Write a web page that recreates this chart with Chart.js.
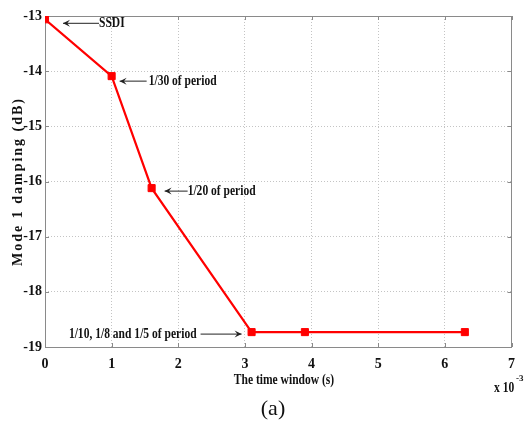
<!DOCTYPE html>
<html>
<head>
<meta charset="utf-8">
<script src="https://cdn.jsdelivr.net/npm/chart.js@4/dist/chart.umd.min.js"></script>
<style>
html,body{margin:0;padding:0;background:#fff;}
#wrap{width:524px;height:427px;position:relative;}
</style>
</head>
<body>
<div id="wrap"><canvas id="c" width="524" height="427"></canvas></div>
<script>
// ---- data ----
const timeWindow = [0, 1.0, 1.6, 3.1, 3.9, 6.3];           // x 10^-3 s
const damping = [-13.06, -14.09, -16.12, -18.73, -18.73, -18.73]; // dB
const xTicks = [0, 1, 2, 3, 4, 5, 6, 7];
const yTicks = [-13, -14, -15, -16, -17, -18, -19];
const annoText = ['SSDI', '1/30 of period', '1/20 of period', '1/10, 1/8 and 1/5 of period'];
const annoIndex = [0, 1, 2, 3];
const xTitle = 'The time window (s)';
const yTitle = 'Mode 1 damping (dB)';
const caption = '(a)';

const SERIF = '"Liberation Serif", "Times New Roman", serif';

function condensedText(ctx, txt, x, y, align, sx) {
  ctx.save();
  const w = ctx.measureText(txt).width * sx;
  let left = x;
  if (align === 'right') left = x - w;
  else if (align === 'center') left = x - w / 2;
  ctx.translate(left, y);
  ctx.scale(sx, 1);
  ctx.textAlign = 'left';
  ctx.fillText(txt, 0, 0);
  ctx.restore();
  return w;
}

function arrow(ctx, x1, y, xTip) {
  ctx.save();
  ctx.strokeStyle = '#222';
  ctx.fillStyle = '#222';
  ctx.lineWidth = 1;
  ctx.beginPath();
  ctx.moveTo(x1, y); ctx.lineTo(xTip, y);
  ctx.stroke();
  const d = xTip < x1 ? 7 : -7;
  ctx.beginPath();
  ctx.moveTo(xTip + d, y - 3.5); ctx.lineTo(xTip, y); ctx.lineTo(xTip + d, y + 3.5);
  ctx.lineTo(xTip + d * 0.6, y);
  ctx.closePath();
  ctx.fill();
  ctx.restore();
}

const framePlugin = {
  id: 'frame',
  beforeDatasetsDraw(chart) {
    const {ctx, chartArea: a, scales} = chart;
    ctx.save();
    ctx.strokeStyle = '#8a8a8a';
    ctx.lineWidth = 1;
    ctx.strokeRect(Math.round(a.left) + 0.5, Math.round(a.top) + 0.5, Math.round(a.right - a.left) - 1, Math.round(a.bottom - a.top));
    ctx.beginPath();
    xTicks.forEach(v => {
      const px = Math.round(scales.x.getPixelForValue(v)) + 0.5;
      ctx.moveTo(px, a.bottom); ctx.lineTo(px, a.bottom - 4);
      ctx.moveTo(px, a.top); ctx.lineTo(px, a.top + 4);
    });
    yTicks.forEach(v => {
      const py = Math.round(scales.y.getPixelForValue(v)) + 0.5;
      ctx.moveTo(a.left, py); ctx.lineTo(a.left + 4, py);
      ctx.moveTo(a.right, py); ctx.lineTo(a.right - 4, py);
    });
    ctx.stroke();
    ctx.restore();
  },
  afterDraw(chart) {
    const {ctx, chartArea: a, scales} = chart;
    const xs = scales.x, ys = scales.y;
    ctx.save();
    ctx.fillStyle = '#111';
    ctx.textBaseline = 'middle';
    ctx.font = 'bold 15px ' + SERIF;
    // annotations
    const pts = annoIndex.map(i => ({x: xs.getPixelForValue(timeWindow[i]), y: ys.getPixelForValue(damping[i])}));
    let p = pts[0];
    arrow(ctx, p.x + 54, p.y + 4, p.x + 18);
    condensedText(ctx, annoText[0], p.x + 54, p.y + 4, 'left', 0.77);
    p = pts[1];
    arrow(ctx, p.x + 35, p.y + 5, p.x + 8);
    condensedText(ctx, annoText[1], p.x + 37, p.y + 5, 'left', 0.77);
    p = pts[2];
    arrow(ctx, p.x + 36, p.y + 3, p.x + 13);
    condensedText(ctx, annoText[2], p.x + 36, p.y + 3, 'left', 0.77);
    p = pts[3];
    arrow(ctx, p.x - 51, p.y + 2, p.x - 10);
    condensedText(ctx, annoText[3], p.x - 55, p.y + 2, 'right', 0.77);

    // axis titles
    ctx.font = 'bold 15px ' + SERIF;
    condensedText(ctx, xTitle, 284, 380, 'center', 0.77);
    ctx.save();
    ctx.translate(18, (a.top + a.bottom) / 2);
    ctx.rotate(-Math.PI / 2);
    ctx.font = 'bold 14px ' + SERIF;
    ctx.textAlign = 'center';
    if ('letterSpacing' in ctx) ctx.letterSpacing = '2px';
    ctx.fillText(yTitle, 0, 0);
    ctx.restore();
    // exponent
    ctx.font = 'bold 15px ' + SERIF;
    condensedText(ctx, 'x 10', 494, 388, 'left', 0.77);
    ctx.font = 'bold 9px ' + SERIF;
    ctx.fillText('-3', 516, 379);
    // caption
    ctx.font = '22px ' + SERIF;
    ctx.textAlign = 'center';
    ctx.fillText(caption, 273, 409);
    ctx.restore();
  }
};

new Chart(document.getElementById('c'), {
  type: 'line',
  data: {
    datasets: [{
      data: timeWindow.map((x, i) => ({x, y: damping[i]})),
      borderColor: '#ff0000',
      backgroundColor: '#ff0000',
      borderWidth: 2.2,
      pointStyle: 'rect',
      pointRadius: 5,
      pointBorderWidth: 1,
      tension: 0
    }]
  },
  options: {
    responsive: false,
    animation: false,
    devicePixelRatio: 1,
    layout: {padding: {top: 16, right: 1, left: 0, bottom: 0}},
    plugins: {legend: {display: false}, tooltip: {enabled: false}},
    scales: {
      x: {
        type: 'linear', min: 0, max: 7,
        afterFit(s) { s.height = 80; },
        afterBuildTicks(s) { s.ticks = xTicks.map(v => ({value: v})); },
        grid: {color: '#c4c4c4', lineWidth: 1, drawTicks: false},
        border: {display: false, dash: [1, 2]},
        ticks: {padding: 9, color: '#111', font: {family: SERIF, weight: 'bold', size: 14}, maxRotation: 0}
      },
      y: {
        type: 'linear', min: -19, max: -13,
        afterFit(s) { s.width = 45; },
        afterBuildTicks(s) { s.ticks = yTicks.map(v => ({value: v})); },
        grid: {color: '#c4c4c4', lineWidth: 1, drawTicks: false},
        border: {display: false, dash: [1, 2]},
        ticks: {padding: 3, color: '#111', font: {family: SERIF, weight: 'bold', size: 14}}
      }
    }
  },
  plugins: [framePlugin]
});
</script>
</body>
</html>
